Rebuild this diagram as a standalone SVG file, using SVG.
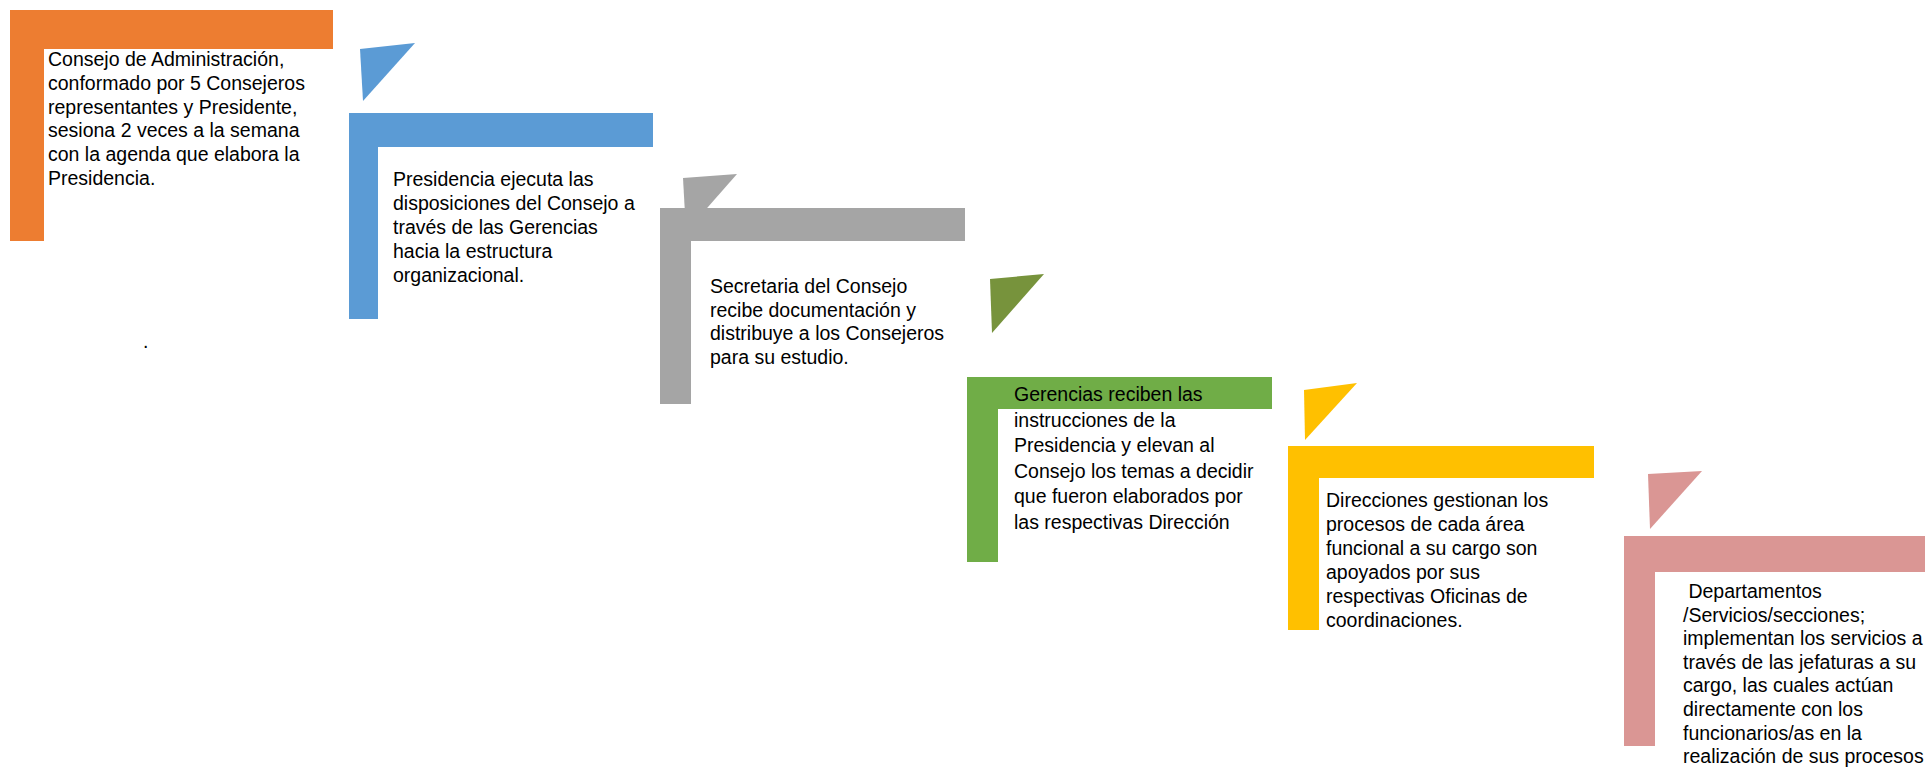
<svg xmlns="http://www.w3.org/2000/svg" width="1925" height="767" viewBox="0 0 1925 767">
<style>
text{font-family:"Liberation Sans",Arial,sans-serif;font-size:19.5px;fill:#000}
.o{fill:#ED7D31}.b{fill:#5B9BD5}.g{fill:#A5A5A5}.v{fill:#77933C}.gr{fill:#70AD47}.y{fill:#FFC000}.p{fill:#DA9694}
</style>
<rect width="1925" height="767" fill="#fff"/>
<g id="connectors">
<polygon class="b" points="360,49 415,43 363,101"/>
<polygon class="g" points="683,178 737,174 686,232"/>
<polygon class="v" points="990,279 1044,274 992,333"/>
<polygon class="y" points="1304,390 1357,383 1305,440"/>
<polygon class="p" points="1648,474 1702,471 1650,529"/>
</g>
<g id="n1">
<path class="o" d="M10,10H333V49H44V241H10Z"/>
<text x="48" y="66">Consejo de Administración,</text>
<text x="48" y="89.8">conformado por 5 Consejeros</text>
<text x="48" y="113.6">representantes y Presidente,</text>
<text x="48" y="137.4">sesiona 2 veces a la semana</text>
<text x="48" y="161.2">con la agenda que elabora la</text>
<text x="48" y="185">Presidencia.</text>
<text x="143" y="348">.</text>
</g>
<g id="n2">
<path class="b" d="M349,113H653V147H378V319H349Z"/>
<text x="393" y="186">Presidencia ejecuta las</text>
<text x="393" y="210">disposiciones del Consejo a</text>
<text x="393" y="234">través de las Gerencias</text>
<text x="393" y="258">hacia la estructura</text>
<text x="393" y="282">organizacional.</text>
</g>
<g id="n3">
<path class="g" d="M660,208H965V241H691V404H660Z"/>
<text x="710" y="293">Secretaria del Consejo</text>
<text x="710" y="316.5">recibe documentación y</text>
<text x="710" y="340">distribuye a los Consejeros</text>
<text x="710" y="363.5">para su estudio.</text>
</g>
<g id="n4">
<path class="gr" d="M967,377H1272V409H998V562H967Z"/>
<text x="1014" y="401">Gerencias reciben las</text>
<text x="1014" y="426.5">instrucciones de la</text>
<text x="1014" y="452">Presidencia y elevan al</text>
<text x="1014" y="477.5">Consejo los temas a decidir</text>
<text x="1014" y="503">que fueron elaborados por</text>
<text x="1014" y="528.5">las respectivas Dirección</text>
</g>
<g id="n5">
<path class="y" d="M1288,446H1594V478H1319V630H1288Z"/>
<text x="1326" y="507">Direcciones gestionan los</text>
<text x="1326" y="530.9">procesos de cada área</text>
<text x="1326" y="554.8">funcional a su cargo son</text>
<text x="1326" y="578.7">apoyados por sus</text>
<text x="1326" y="602.6">respectivas Oficinas de</text>
<text x="1326" y="626.5">coordinaciones.</text>
</g>
<g id="n6">
<path class="p" d="M1624,536H1925V572H1655V746H1624Z"/>
<text x="1683" y="598" xml:space="preserve"> Departamentos</text>
<text x="1683" y="621.6">/Servicios/secciones;</text>
<text x="1683" y="645.2">implementan los servicios a</text>
<text x="1683" y="668.8">través de las jefaturas a su</text>
<text x="1683" y="692.4">cargo, las cuales actúan</text>
<text x="1683" y="716">directamente con los</text>
<text x="1683" y="739.6">funcionarios/as en la</text>
<text x="1683" y="763.2">realización de sus procesos</text>
</g>
</svg>
